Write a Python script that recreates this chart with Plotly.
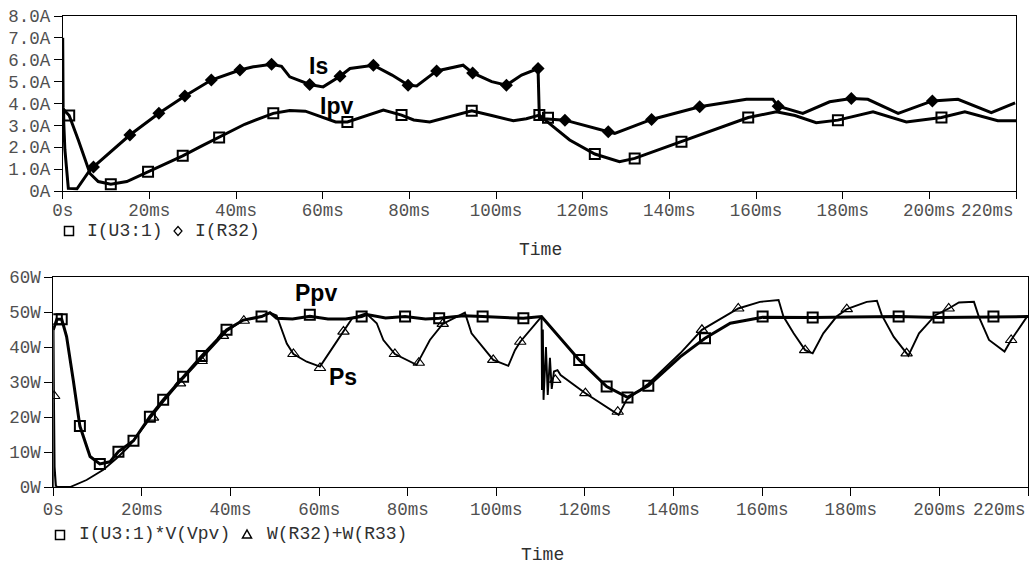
import plotly.graph_objects as go

W, H = 1031, 565

# ---------------- data (time in ms) ----------------
t_ipv = [0, 1.5, 3.6, 6.3, 8.2, 11.1, 14.8, 19.7, 23.5, 27.7, 32, 36.1, 42, 48.6, 52.4, 56, 60, 63,
         65.7, 70, 74, 78.2, 81, 84.7, 89, 94.4, 99, 104, 107, 110, 113.2, 117, 122.8, 128.5, 132,
         137, 142.8, 150, 158.2, 164.7, 169, 173.9, 178.9, 187, 194.7, 202.8, 208.2, 215.8, 220]
i_ipv = [3.77, 3.45, 2.33, 0.8, 0.43, 0.31, 0.43, 0.88, 1.25, 1.61, 2.05, 2.45, 3.05, 3.55, 3.68, 3.65, 3.35, 3.16,
         3.16, 3.45, 3.7, 3.47, 3.25, 3.16, 3.4, 3.67, 3.45, 3.21, 3.3, 3.47, 2.94, 2.33, 1.69, 1.34, 1.49,
         1.85, 2.25, 2.8, 3.36, 3.62, 3.45, 3.12, 3.24, 3.62, 3.16, 3.36, 3.62, 3.21, 3.21]

t_is = [0, 0.1, 0.5, 1.3, 3.3, 6.3, 7.1, 15.5, 22.2, 28.2, 34.3, 40.9, 44, 48.2, 50.5, 52.4, 57, 60.1,
        64, 66.3, 71.7, 76, 79.7, 81.7, 86.3, 92.4, 94.6, 99, 102.4, 105.9, 109.7, 110, 111, 115.9,
        125.9, 127.4, 135.9, 142.4, 147, 157.8, 163.9, 165.1, 170.8, 177, 182, 185.8, 192.8, 200.7,
        206.6, 214.3, 219.8]
i_is = [7.0, 3.8, 1.9, 0.12, 0.1, 0.96, 1.1, 2.56, 3.55, 4.34, 5.07, 5.53, 5.68, 5.79, 5.7, 5.22, 4.87, 4.76,
        5.25, 5.6, 5.75, 5.3, 4.84, 4.8, 5.49, 5.75, 5.4, 5.0, 4.84, 5.3, 5.6, 3.35, 3.3, 3.24,
        2.71, 2.63, 3.27, 3.62, 3.85, 4.19, 4.19, 3.88, 3.55, 4.08, 4.23, 4.19, 3.55, 4.12,
        4.19, 3.58, 4.03]

t_ipv_mk = [1.5, 11.1, 19.7, 27.7, 36.1, 48.6, 65.7, 78.2, 94.4, 110, 112, 122.8, 132, 142.8, 158.2, 178.9, 202.8]
i_ipv_mk = [3.45, 0.31, 0.88, 1.61, 2.45, 3.55, 3.16, 3.47, 3.67, 3.47, 3.35, 1.69, 1.49, 2.25, 3.36, 3.24, 3.36]

t_is_mk = [7.1, 15.5, 22.2, 28.2, 34.3, 40.9, 48.2, 57, 64, 71.7, 79.7, 86.3, 94.6, 102.4, 109.7,
           115.9, 125.9, 135.9, 147, 165.1, 182, 200.7]
i_is_mk = [1.1, 2.56, 3.55, 4.34, 5.07, 5.53, 5.79, 4.87, 5.25, 5.75, 4.84, 5.49, 5.4, 4.84, 5.6,
           3.24, 2.71, 3.27, 3.85, 3.88, 4.23, 4.12]

t_ppv = [0, 0.8, 1.9, 3.0, 4.5, 6.0, 8.3, 10.2, 10.5, 12.8, 14.7, 18.1, 21.8, 24.8, 29.3, 33.5, 39.1,
         42.9, 47, 48.9, 50.4, 54, 57.9, 62, 66, 69.6, 70.8, 75, 79.4, 84, 87.1, 92.6, 96.9, 101,
         106.1, 110.2, 118.7, 124.9, 129.6, 134.3, 141.5, 147.1, 152.8, 160.1, 171.4, 180, 190.8,
         199.8, 212.2, 220]
p_ppv = [44.9, 47.9, 47.9, 43, 30.6, 17.4, 8.7, 6.8, 6.6, 7.2, 10.1, 13.2, 20.1, 24.9, 31.5, 37.4, 44.9,
         47.7, 48.7, 49.8, 48.2, 48.0, 48.8, 48.0, 48.0, 48.7, 49.3, 48.3, 48.7, 48.0, 48.2, 48.9, 48.7, 48.5,
         48.2, 48.7, 36.3, 28.7, 25.6, 28.9, 37.2, 42.5, 46.8, 48.5, 48.4, 48.6, 48.7,
         48.4, 48.7, 48.7]

t_ps = [0, 0.05, 0.15, 0.3, 0.6, 1.0, 3.8, 7.5, 11.3, 14.3, 17, 21.8, 24.8, 29.3, 33.5, 39.1, 42.9,
        47, 48.9, 50.4, 52.7, 54.2, 57.2, 60.2, 63.2, 65.5, 67.5, 70.6, 73, 74.5, 77.1, 82, 85, 87.9,
        92.9, 94.4, 99.3, 102.7, 104.2, 105.4, 110.2, 110.3, 110.5, 110.65, 111.2, 111.6, 112.1, 112.5,
        113.0, 113.8, 114.5, 120.1, 127.6, 129.4, 134.3, 141.5, 146.4, 154.6, 159.5, 163.7, 164.8, 167.1,
        169.7, 171.4, 173.8, 176.8, 179.1, 183.6, 185.9, 187, 189.7, 192.6, 193, 195.4, 199.1, 202.1,
        204.4, 207.8, 208.9, 211.2, 214.7, 216.2, 219.9]
p_ps = [0, 46, 26, 5.8, 0.3, 0, 0, 2.0, 4.9, 8.2, 11.5, 19.5, 24.3, 31, 36.8, 44.5, 47.7,
        48.7, 49.8, 49, 41, 38, 35.8, 34.4, 40.1, 44.4, 48.3, 49.6, 46.8, 42, 38, 34.9, 42, 46.6,
        49.8, 43.9, 36.3, 34.6, 39.1, 41.5, 48.7, 27.7, 45, 24.9, 40, 26.3, 36.9, 28,
        33, 33.4, 32, 26.8, 20.6, 24.9, 29.5, 38.2, 44.9, 51.0, 52.9, 53.4, 48.7, 43.9,
        39.1, 38.2, 43.9, 48.7, 50.8, 52.9, 53.2, 49.1, 42.9, 38.2, 37.5, 43.9, 49.1, 51,
        52.7, 52.9, 48.7, 42, 38.7, 42, 48.9]

t_ppv_mk = [0.8, 1.9, 6.0, 10.5, 14.7, 18.1, 21.8, 24.8, 29.3, 33.5, 39.1, 47, 57.9, 69.6, 79.4, 87.1,
            96.9, 106.1, 118.7, 124.9, 129.6, 134.3, 147.1, 160.1, 171.4, 190.8, 199.8, 212.2]
p_ppv_mk = [47.9, 47.9, 17.4, 6.6, 10.1, 13.2, 20.1, 24.9, 31.5, 37.4, 44.9, 48.7, 49.2, 48.7, 48.7, 48.2,
            48.7, 48.2, 36.3, 28.7, 25.6, 28.9, 42.5, 48.7, 48.4, 48.7, 48.4, 48.7]

t_ps_mk = [0.2, 22.5, 28.6, 33.5, 38.3, 43, 54.2, 60.2, 65.5, 77.1, 82.5, 87.9, 99.3, 105.4, 113.3,
           120.1, 127.4, 146.4, 154.6, 169.7, 179.1, 192.6, 202.1, 216.2]
p_ps_mk = [26, 19.8, 29.6, 36, 43.2, 47.5, 38, 34, 44.4, 38, 35.5, 46.6, 36.3, 41.5, 30.6,
           26.8, 21.5, 44.9, 51.0, 39.1, 50.8, 38.2, 51, 42]

x_tickvals = [0, 20, 40, 60, 80, 100, 120, 140, 160, 180, 200, 220]
x_ticktext = ["0s", "20ms", "40ms", "60ms", "80ms", "100ms", "120ms", "140ms", "160ms", "180ms", "200ms", "220ms"]
i_tickvals = [0, 1, 2, 3, 4, 5, 6, 7, 8]
i_ticktext = ["0A", "1.0A", "2.0A", "3.0A", "4.0A", "5.0A", "6.0A", "7.0A", "8.0A"]
p_tickvals = [0, 10, 20, 30, 40, 50, 60]
p_ticktext = ["0W", "10W", "20W", "30W", "40W", "50W", "60W"]

# ---------------- helpers ----------------
def px(x):
    return x / W

def py(y):
    return 1 - y / H

MONO = "Liberation Mono"
TICKFONT = dict(family=MONO, size=17.5, color="#505050")

fig = go.Figure()

# top plot
fig.add_trace(go.Scatter(x=t_ipv, y=i_ipv, mode="lines", line=dict(color="black", width=3),
                         xaxis="x", yaxis="y", showlegend=False))
fig.add_trace(go.Scatter(x=t_is, y=i_is, mode="lines", line=dict(color="black", width=3),
                         xaxis="x", yaxis="y", showlegend=False))
fig.add_trace(go.Scatter(x=t_ipv_mk, y=i_ipv_mk, mode="markers",
                         marker=dict(symbol="square-open", size=10, color="black", line=dict(width=2)),
                         xaxis="x", yaxis="y", showlegend=False))
fig.add_trace(go.Scatter(x=t_is_mk, y=i_is_mk, mode="markers",
                         marker=dict(symbol="diamond", size=10, color="black"),
                         xaxis="x", yaxis="y", showlegend=False))

# bottom plot
fig.add_trace(go.Scatter(x=t_ppv, y=p_ppv, mode="lines", line=dict(color="black", width=3),
                         xaxis="x2", yaxis="y2", showlegend=False))
fig.add_trace(go.Scatter(x=t_ps, y=p_ps, mode="lines", line=dict(color="black", width=1.9),
                         xaxis="x2", yaxis="y2", showlegend=False))
fig.add_trace(go.Scatter(x=t_ppv_mk, y=p_ppv_mk, mode="markers",
                         marker=dict(symbol="square-open", size=10, color="black", line=dict(width=2)),
                         xaxis="x2", yaxis="y2", showlegend=False))
fig.add_trace(go.Scatter(x=t_ps_mk, y=p_ps_mk, mode="markers",
                         marker=dict(symbol="triangle-up-open", size=10, color="black", line=dict(width=1.2)),
                         xaxis="x2", yaxis="y2", showlegend=False))

axis_common = dict(showline=True, linecolor="black", linewidth=1, mirror=True, showgrid=False,
                   zeroline=False, ticks="outside", tickcolor="black", tickwidth=1,
                   tickfont=TICKFONT, automargin=False)

x_ticktext_axis = x_ticktext[:-1] + [""]   # last label drawn right-aligned below

fig.update_layout(
    width=W, height=H, autosize=False,
    margin=dict(l=0, r=0, t=0, b=0),
    paper_bgcolor="white", plot_bgcolor="white",
    xaxis=dict(domain=[px(62.7), px(1016)], range=[0, 220], tickvals=x_tickvals, ticktext=x_ticktext_axis,
               ticklen=7, ticklabelstandoff=-4, anchor="y", **axis_common),
    yaxis=dict(domain=[py(191), py(16)], range=[0, 8], tickvals=i_tickvals, ticktext=i_ticktext,
               ticklen=8, anchor="x", **axis_common),
    xaxis2=dict(domain=[px(53.3), px(1028)], range=[0, 220], tickvals=x_tickvals, ticktext=x_ticktext_axis,
                ticklen=8, ticklabelstandoff=-2, anchor="y2", **axis_common),
    yaxis2=dict(domain=[py(487), py(277)], range=[0, 60], tickvals=p_tickvals, ticktext=p_ticktext,
                ticklen=8, anchor="x2", **axis_common),
)

ann = []
def text(x, y, s, font, xanchor="center"):
    ann.append(dict(x=px(x), y=py(y), xref="paper", yref="paper", text=s, showarrow=False,
                    xanchor=xanchor, yanchor="middle", font=font))

LEG = dict(family=MONO, size=18, color="#303030")
text(85, 231, "I(U3:1)", LEG, "left")
text(193, 231, "I(R32)", LEG, "left")
text(540, 250, "Time", LEG)
text(77, 534, "I(U3:1)*V(Vpv)", LEG, "left")
text(265, 534, "W(R32)+W(R33)", LEG, "left")
text(542, 555, "Time", LEG)
# last x tick labels, pushed left to stay inside the page
text(1016, 211, x_ticktext[-1], TICKFONT, "right")
text(1028, 510, x_ticktext[-1], TICKFONT, "right")

BOLD = dict(family="Liberation Sans", size=23, color="black", weight="bold")
text(318, 66, "Is", BOLD)
text(336, 106, "Ipv", BOLD)
text(316, 293, "Ppv", BOLD)
text(343, 377, "Ps", BOLD)
fig.update_layout(annotations=ann)

# legend symbols as shapes
shapes = []
def square(cx, cy, s=9):
    shapes.append(dict(type="rect", xref="paper", yref="paper", x0=px(cx - s / 2), x1=px(cx + s / 2),
                       y0=py(cy + s / 2), y1=py(cy - s / 2), line=dict(color="black", width=1.5)))
def diamond(cx, cy, w=8, h=9):
    path = "M {} {} L {} {} L {} {} L {} {} Z".format(px(cx), py(cy - h / 2), px(cx + w / 2), py(cy),
                                                    px(cx), py(cy + h / 2), px(cx - w / 2), py(cy))
    shapes.append(dict(type="path", xref="paper", yref="paper", path=path, line=dict(color="black", width=1.2)))
def triangle(cx, cy, w=9, h=8):
    path = "M {} {} L {} {} L {} {} Z".format(px(cx - w / 2), py(cy + h / 2), px(cx + w / 2), py(cy + h / 2),
                                            px(cx), py(cy - h / 2))
    shapes.append(dict(type="path", xref="paper", yref="paper", path=path, line=dict(color="black", width=1.5)))

square(69, 231)
diamond(178, 231)
square(60, 535)
triangle(247, 534)
fig.update_layout(shapes=shapes)

fig.write_html("out.html", config={"displayModeBar": False},
               post_script="document.body.style.margin='0';document.body.style.overflow='hidden';")
